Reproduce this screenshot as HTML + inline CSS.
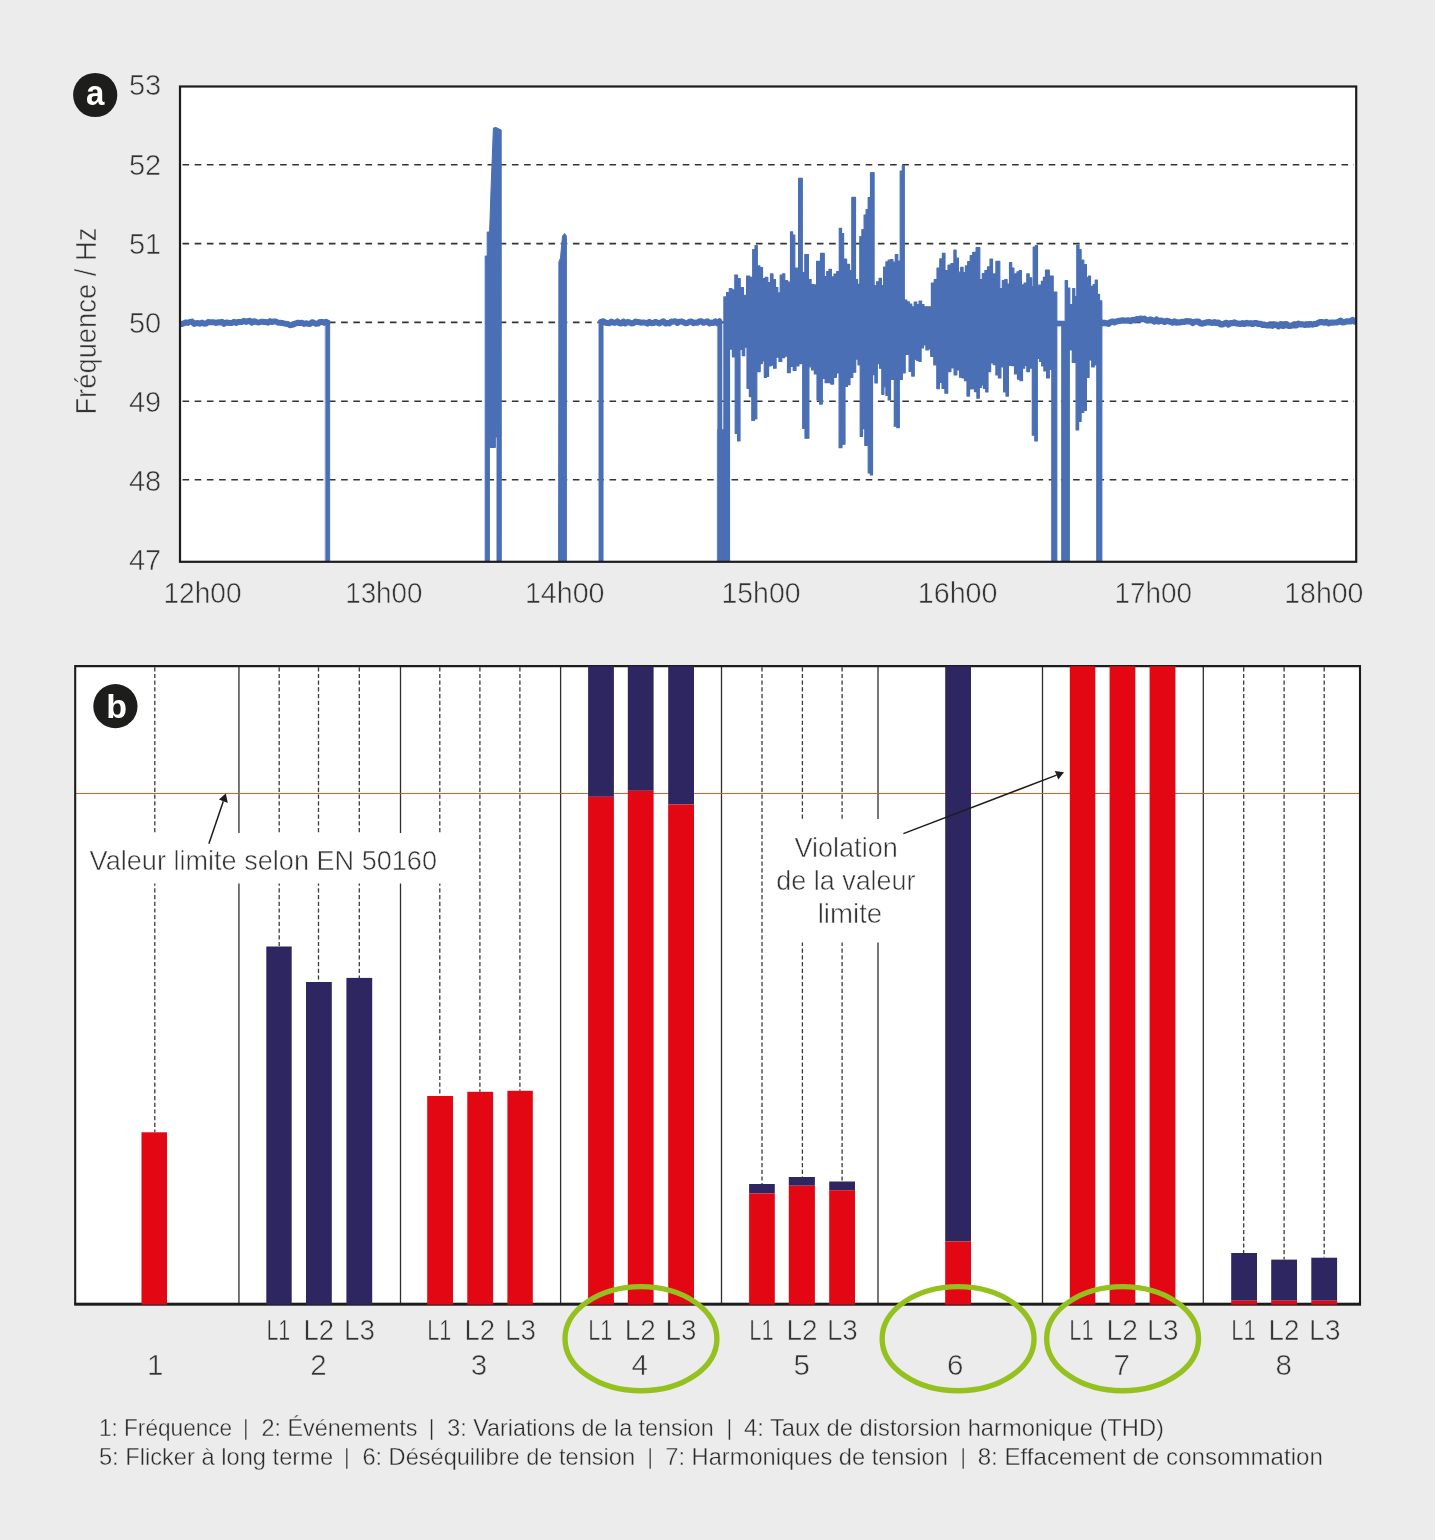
<!DOCTYPE html>
<html lang="fr"><head><meta charset="utf-8"><title>Fréquence et qualité de tension</title>
<style>html,body{margin:0;padding:0;background:#ececec}svg{display:block}</style></head>
<body>
<svg width="1435" height="1540" viewBox="0 0 1435 1540" font-family="'Liberation Sans', sans-serif" fill="#333333">
<rect width="1435" height="1540" fill="#ececec"/>
<rect x="180" y="86.5" width="1176" height="475" fill="#fff"/>
<line x1="182.5" x2="1354" y1="164.8" y2="164.8" stroke="#333" stroke-width="1.6" stroke-dasharray="6.6 5.6"/>
<line x1="182.5" x2="1354" y1="243.6" y2="243.6" stroke="#333" stroke-width="1.6" stroke-dasharray="6.6 5.6"/>
<line x1="182.5" x2="1354" y1="322.4" y2="322.4" stroke="#333" stroke-width="1.6" stroke-dasharray="6.6 5.6"/>
<line x1="182.5" x2="1354" y1="401.2" y2="401.2" stroke="#333" stroke-width="1.6" stroke-dasharray="6.6 5.6"/>
<line x1="182.5" x2="1354" y1="479.7" y2="479.7" stroke="#333" stroke-width="1.6" stroke-dasharray="6.6 5.6"/>
<clipPath id="c1"><rect x="180" y="87" width="1176" height="474"/></clipPath>
<g clip-path="url(#c1)" fill="#4a6fb5" stroke="#4a6fb5" stroke-linejoin="round" stroke-linecap="round">
<polyline fill="none" stroke-width="6" points="180.0,323.6 182.0,324.0 184.0,323.2 186.0,322.4 188.0,322.9 190.0,321.9 192.0,321.6 194.0,323.9 196.0,323.2 198.0,322.9 200.0,323.8 202.0,322.6 204.0,323.7 206.0,323.6 208.0,322.1 210.0,322.2 212.0,322.3 214.0,322.2 216.0,323.0 218.0,322.2 220.0,322.6 222.0,321.9 224.0,323.8 226.0,322.4 228.0,322.7 230.0,323.0 232.0,323.0 234.0,321.8 236.0,323.0 238.0,322.0 240.0,322.1 242.0,322.1 244.0,320.8 246.0,321.9 248.0,321.2 250.0,320.8 252.0,322.7 254.0,321.2 256.0,321.9 258.0,322.5 260.0,322.1 262.0,321.6 264.0,322.0 266.0,322.1 268.0,322.7 270.0,321.1 272.0,322.1 274.0,321.4 276.0,321.5 278.0,322.7 280.0,322.8 282.0,322.9 284.0,323.4 286.0,323.8 288.0,324.0 290.0,325.2 292.0,324.9 294.0,324.1 296.0,323.3 298.0,322.7 300.0,322.9 302.0,322.7 304.0,323.9 306.0,323.3 308.0,323.7 310.0,323.9 312.0,322.2 314.0,322.9 316.0,323.9 318.0,323.6 320.0,321.9 322.0,321.9 324.0,322.7 326.0,321.8 327.4,322.8"/>
<rect x="325.4" y="320.5" width="4.5" height="250" stroke-width="0.4"/>
<polygon stroke-width="1" points="485.2,570.0 485.2,256.0 487.2,256.0 487.2,232.0 489.6,232.0 491.0,190.0 493.4,128.0 496.0,127.5 501.2,130.0 501.3,570.0 497.0,570.0 497.0,437.0 495.4,437.0 495.4,447.5 489.4,447.5 489.4,570.0"/>
<polygon stroke-width="1" points="558.6,570.0 558.9,262.0 560.5,258.0 562.5,236.0 564.6,233.5 566.4,236.0 566.4,570.0"/>
<polyline fill="none" stroke-width="6" points="601.4,321.7 603.4,321.3 605.4,322.7 607.4,323.0 609.4,323.3 611.4,321.5 613.4,322.8 615.4,322.7 617.4,321.4 619.4,323.2 621.4,323.4 623.4,321.6 625.4,323.4 627.4,322.1 629.4,322.3 631.4,323.5 633.4,323.1 635.4,321.5 637.4,322.1 639.4,322.3 641.4,322.7 643.4,322.4 645.4,322.7 647.4,323.6 649.4,321.9 651.4,323.2 653.4,323.0 655.4,321.9 657.4,322.7 659.4,323.4 661.4,322.3 663.4,321.3 665.4,323.5 667.4,323.0 669.4,323.4 671.4,321.4 673.4,321.7 675.4,321.2 677.4,323.0 679.4,321.7 681.4,321.4 683.4,322.1 685.4,323.3 687.4,323.1 689.4,321.7 691.4,321.5 693.4,323.3 695.4,322.5 697.4,322.8 699.4,321.3 701.4,321.2 703.4,322.8 705.4,322.1 707.4,321.3 709.4,323.4 711.4,322.6 713.4,323.0 715.4,321.3 717.4,323.2 719.4,321.3 719.5,322.3"/>
<rect x="598.9" y="320" width="4.4" height="250" stroke-width="0.4"/>
<rect x="717.8" y="321" width="4.2" height="250" stroke-width="0.6"/>
<rect x="717.8" y="429.5" width="11.6" height="140" stroke-width="0.6"/>
<polygon stroke-width="1.2" points="723.9,296.9 726.6,296.9 726.6,292.6 729.3,292.6 729.3,288.6 732.0,288.6 732.0,289.9 734.8,289.9 734.8,275.0 737.5,275.0 737.5,278.7 740.2,278.7 740.2,287.5 743.4,287.5 743.4,295.4 746.6,295.4 746.6,276.1 749.7,276.1 749.7,277.3 752.7,277.3 752.7,249.6 755.0,249.6 755.0,245.5 757.3,245.5 757.3,265.9 759.9,265.9 759.9,267.5 762.5,267.5 762.5,278.6 765.2,278.6 765.2,277.3 767.8,277.3 767.8,282.6 770.5,282.6 770.5,273.9 773.0,273.9 773.0,279.6 775.5,279.6 775.5,287.5 777.8,287.5 777.8,292.9 780.2,292.9 780.2,275.2 782.5,275.2 782.5,273.9 784.8,273.9 784.8,280.7 787.6,280.7 787.6,282.0 790.5,282.0 790.5,231.8 792.6,231.8 792.6,235.0 794.8,235.0 794.8,268.2 798.6,268.2 798.6,178.4 802.3,178.4 802.3,272.7 804.8,272.7 804.8,254.5 808.4,254.5 808.4,279.5 811.1,279.5 811.1,284.6 813.9,284.6 813.9,284.9 816.6,284.9 816.6,261.4 820.5,261.4 820.5,253.4 824.3,253.4 824.3,276.5 826.7,276.5 826.7,271.6 829.0,271.6 829.0,269.3 831.4,269.3 831.4,276.9 834.0,276.9 834.0,274.0 836.7,274.0 836.7,271.6 839.3,271.6 839.3,228.4 841.5,228.4 841.5,233.6 843.6,233.6 843.6,259.1 846.6,259.1 846.6,264.4 849.5,264.4 849.5,270.5 851.8,270.5 851.8,197.3 855.5,197.3 855.5,279.5 857.6,279.5 857.6,284.3 859.8,284.3 859.8,236.5 861.9,236.5 861.9,229.5 864.1,229.5 864.1,215.0 866.1,215.0 866.1,209.5 868.2,209.5 868.2,197.7 870.5,197.7 870.5,172.7 874.1,172.7 874.1,285.5 876.6,285.5 876.6,281.8 879.1,281.8 879.1,278.4 881.4,278.4 881.4,285.5 883.6,285.5 883.6,267.2 885.9,267.2 885.9,261.8 888.2,261.8 888.2,260.2 890.5,260.2 890.5,259.5 892.9,259.5 892.9,262.2 895.3,262.2 895.3,254.5 897.8,254.5 897.8,261.1 900.2,261.1 900.2,171.1 902.3,171.1 902.3,165.5 904.3,165.5 904.3,300.0 906.8,300.0 906.8,301.8 909.3,301.8 909.3,304.1 911.7,304.1 911.7,306.8 914.2,306.8 914.2,302.1 916.7,302.1 916.7,304.7 919.1,304.7 919.1,301.2 921.6,301.2 921.6,304.5 924.0,304.5 924.0,306.8 926.5,306.8 926.5,306.8 928.9,306.8 928.9,306.8 931.4,306.8 931.4,283.1 934.2,283.1 934.2,279.5 937.0,279.5 937.0,268.2 939.8,268.2 939.8,258.9 942.4,258.9 942.4,253.4 945.0,253.4 945.0,270.7 948.0,270.7 948.0,265.1 950.9,265.1 950.9,263.6 953.9,263.6 953.9,250.0 956.1,250.0 956.1,258.2 958.4,258.2 958.4,272.2 960.7,272.2 960.7,267.3 963.1,267.3 963.1,272.5 965.4,272.5 965.4,265.9 967.7,265.9 967.7,261.6 970.2,261.6 970.2,255.7 972.7,255.7 972.7,252.3 976.1,252.3 976.1,247.7 979.8,247.7 979.8,279.5 982.3,279.5 982.3,273.6 984.9,273.6 984.9,270.5 987.5,270.5 987.5,266.9 990.0,266.9 990.0,259.1 992.5,259.1 992.5,273.9 995.9,273.9 995.9,261.4 999.8,261.4 999.8,288.6 1002.3,288.6 1002.3,280.6 1004.7,280.6 1004.7,279.5 1007.1,279.5 1007.1,284.0 1009.5,284.0 1009.5,262.5 1011.7,262.5 1011.7,268.1 1013.9,268.1 1013.9,273.9 1017.0,273.9 1017.0,271.8 1019.2,271.8 1019.2,270.5 1021.4,270.5 1021.4,284.9 1024.1,284.9 1024.1,283.0 1026.8,283.0 1026.8,273.9 1029.2,273.9 1029.2,277.8 1031.6,277.8 1031.6,286.4 1033.2,286.4 1033.2,247.0 1035.3,247.0 1035.3,245.5 1037.5,245.5 1037.5,285.2 1041.4,285.2 1041.4,281.3 1043.4,281.3 1043.4,277.3 1045.5,277.3 1045.5,270.0 1049.3,270.0 1049.3,276.1 1053.2,276.1 1053.2,292.0 1056.8,292.0 1056.8,564.0 1051.8,564.0 1051.8,369.3 1049.3,369.3 1049.3,378.0 1046.6,378.0 1046.6,370.9 1043.9,370.9 1043.9,365.9 1041.7,365.9 1041.7,361.3 1039.5,361.3 1039.5,358.5 1037.3,358.5 1037.3,440.9 1034.8,440.9 1034.8,435.2 1032.3,435.2 1032.3,368.1 1029.5,368.1 1029.5,371.6 1026.8,371.6 1026.8,365.5 1024.7,365.5 1024.7,368.2 1022.5,368.2 1022.5,380.7 1020.0,380.7 1020.0,379.2 1017.5,379.2 1017.5,373.9 1014.5,373.9 1014.5,365.6 1011.4,365.6 1011.4,365.3 1008.4,365.3 1008.4,396.1 1006.0,396.1 1006.0,391.8 1003.6,391.8 1003.6,367.0 1000.9,367.0 1000.9,378.0 998.4,378.0 998.4,375.0 995.9,375.0 995.9,364.6 993.3,364.6 993.3,363.0 990.6,363.0 990.6,371.6 988.0,371.6 988.0,392.0 985.7,392.0 985.7,388.4 983.4,388.4 983.4,385.0 981.4,385.0 981.4,387.5 979.3,387.5 979.3,398.2 976.9,398.2 976.9,391.6 974.5,391.6 974.5,388.6 972.0,388.6 972.0,389.0 969.5,389.0 969.5,396.1 967.0,396.1 967.0,380.7 964.5,380.7 964.5,378.0 962.0,378.0 962.0,377.2 959.5,377.2 959.5,370.0 956.8,370.0 956.8,375.0 954.1,375.0 954.1,367.9 950.9,367.9 950.9,371.6 947.7,371.6 947.7,393.2 944.9,393.2 944.9,388.3 942.0,388.3 942.0,382.3 939.4,382.3 939.4,388.6 936.8,388.6 936.8,364.8 933.8,364.8 933.8,356.3 930.7,356.3 930.7,348.9 928.3,348.9 928.3,350.0 925.9,350.0 925.9,344.9 923.5,344.9 923.5,348.0 921.1,348.0 921.1,361.4 918.9,361.4 918.9,360.3 916.6,360.3 916.6,359.2 914.3,359.2 914.3,376.1 911.7,376.1 911.7,371.5 909.1,371.5 909.1,354.5 905.2,354.5 905.2,372.8 902.3,372.8 902.3,379.5 899.3,379.5 899.3,427.7 896.8,427.7 896.8,426.2 894.3,426.2 894.3,379.5 890.5,379.5 890.5,400.0 888.2,400.0 888.2,395.4 885.9,395.4 885.9,386.8 883.9,386.8 883.9,394.3 881.8,394.3 881.8,368.2 879.5,368.2 879.5,363.6 877.3,363.6 877.3,383.0 874.9,383.0 874.9,374.7 872.5,374.7 872.5,475.0 870.3,475.0 870.3,472.9 868.2,472.9 868.2,445.5 864.8,445.5 864.8,428.7 862.5,428.7 862.5,436.4 860.2,436.4 860.2,364.8 858.0,364.8 858.0,359.1 855.7,359.1 855.7,372.2 852.8,372.2 852.8,377.3 850.0,377.3 850.0,384.7 847.5,384.7 847.5,386.4 845.0,386.4 845.0,444.2 842.0,444.2 842.0,447.7 839.1,447.7 839.1,373.0 836.4,373.0 836.4,377.3 833.6,377.3 833.6,384.1 830.8,384.1 830.8,382.7 828.0,382.7 828.0,382.7 825.1,382.7 825.1,378.3 822.3,378.3 822.3,404.1 819.7,404.1 819.7,400.1 817.0,400.1 817.0,373.9 814.3,373.9 814.3,369.9 811.6,369.9 811.6,366.8 808.9,366.8 808.9,438.2 805.0,438.2 805.0,428.4 802.7,428.4 802.7,363.6 798.9,363.6 798.9,366.0 796.0,366.0 796.0,370.5 793.2,370.5 793.2,366.5 790.3,366.5 790.3,372.7 787.5,372.7 787.5,356.1 784.7,356.1 784.7,357.6 781.8,357.6 781.8,361.4 779.0,361.4 779.0,357.2 776.1,357.2 776.1,368.2 773.6,368.2 773.6,365.1 771.1,365.1 771.1,365.9 768.6,365.9 768.6,376.3 766.5,376.3 766.5,377.3 764.3,377.3 764.3,360.9 762.3,360.9 762.3,363.6 760.2,363.6 760.2,371.6 756.8,371.6 756.8,418.9 754.3,418.9 754.3,420.5 751.8,420.5 751.8,396.6 749.4,396.6 749.4,388.3 747.0,388.3 747.0,347.2 744.7,347.2 744.7,355.7 742.3,355.7 742.3,349.3 740.0,349.3 740.0,440.9 737.6,440.9 737.6,433.3 735.2,433.3 735.2,356.8 732.4,356.8 732.4,349.1 729.5,349.1 729.5,564.0 723.9,564.0"/>
<polyline fill="none" stroke-width="5.6" points="1054,323.4 1064,323.6"/>
<polygon stroke-width="1.2" points="1061.8,321.6 1065.2,321.6 1065.2,280.7 1067.5,280.7 1067.5,288.0 1069.8,288.0 1069.8,304.5 1072.7,304.5 1072.7,288.6 1074.8,288.6 1074.8,296.6 1076.8,296.6 1076.8,245.0 1079.0,245.0 1079.0,249.6 1081.1,249.6 1081.1,260.2 1083.8,260.2 1083.8,264.5 1086.4,264.5 1086.4,277.7 1088.4,277.7 1088.4,276.1 1090.5,276.1 1090.5,286.4 1093.2,286.4 1093.2,284.5 1095.2,284.5 1095.2,280.0 1097.3,280.0 1097.3,294.3 1099.5,294.3 1099.5,300.8 1101.8,300.8 1101.8,564.0 1096.8,564.0 1096.8,365.0 1094.2,365.0 1094.2,367.0 1091.7,367.0 1091.7,359.9 1089.1,359.9 1089.1,377.3 1086.4,377.3 1086.4,410.4 1083.8,410.4 1083.8,412.5 1081.1,412.5 1081.1,421.4 1078.6,421.4 1078.6,430.0 1076.1,430.0 1076.1,362.5 1072.3,362.5 1072.3,350.0 1069.3,350.0 1069.3,564.0 1061.8,564.0"/>
<polyline fill="none" stroke-width="6.2" points="1100.5,321.7 1102.5,323.3 1104.5,322.9 1106.5,323.2 1108.5,323.9 1110.5,322.1 1112.5,321.5 1114.5,322.3 1116.5,321.4 1118.5,320.9 1120.5,320.8 1122.5,320.3 1124.5,320.5 1126.5,320.5 1128.5,320.3 1130.5,321.2 1132.5,319.9 1134.5,320.2 1136.5,319.2 1138.5,319.4 1140.5,318.5 1142.5,319.2 1144.5,318.7 1146.5,320.5 1148.5,320.2 1150.5,319.5 1152.5,320.3 1154.5,321.5 1156.5,319.6 1158.5,321.5 1160.5,320.7 1162.5,320.9 1164.5,321.9 1166.5,320.9 1168.5,321.3 1170.5,321.9 1172.5,322.7 1174.5,321.3 1176.5,322.6 1178.5,322.4 1180.5,322.3 1182.5,321.8 1184.5,321.8 1186.5,321.1 1188.5,321.4 1190.5,321.3 1192.5,323.0 1194.5,321.8 1196.5,321.7 1198.5,321.6 1200.5,323.4 1202.5,323.6 1204.5,323.1 1206.5,322.3 1208.5,322.2 1210.5,322.4 1212.5,322.9 1214.5,322.2 1216.5,323.0 1218.5,322.6 1220.5,324.3 1222.5,324.4 1224.5,323.4 1226.5,322.8 1228.5,324.6 1230.5,323.1 1232.5,323.2 1234.5,322.4 1236.5,323.4 1238.5,323.7 1240.5,323.9 1242.5,323.2 1244.5,324.0 1246.5,322.9 1248.5,323.5 1250.5,323.2 1252.5,324.0 1254.5,323.2 1256.5,323.2 1258.5,324.0 1260.5,323.9 1262.5,324.8 1264.5,324.7 1266.5,325.3 1268.5,325.1 1270.5,325.3 1272.5,325.8 1274.5,324.7 1276.5,324.6 1278.5,326.3 1280.5,324.3 1282.5,325.8 1284.5,325.6 1286.5,324.1 1288.5,325.9 1290.5,325.9 1292.5,325.2 1294.5,325.3 1296.5,325.4 1298.5,323.6 1300.5,324.4 1302.5,324.3 1304.5,324.9 1306.5,324.7 1308.5,324.7 1310.5,324.0 1312.5,324.6 1314.5,324.0 1316.5,323.9 1318.5,322.6 1320.5,322.0 1322.5,322.2 1324.5,322.6 1326.5,321.8 1328.5,323.4 1330.5,322.6 1332.5,322.7 1334.5,322.5 1336.5,322.5 1338.5,321.9 1340.5,320.6 1342.5,322.4 1344.5,322.2 1346.5,321.4 1348.5,321.4 1350.5,321.5 1352.5,320.0 1354.5,321.5 1356.0,320.8"/>
</g>
<rect x="180" y="86.5" width="1176.2" height="475.3" fill="none" stroke="#1d1d1b" stroke-width="2.2"/>
<circle cx="95.2" cy="95" r="22.1" fill="#1d1d1b"/>
<text transform="translate(95.2,104.6) scale(0.93,1)" font-size="35.5" font-weight="bold" fill="#fff" text-anchor="middle">a</text>
<text x="161.2" y="95.1" font-size="29" text-anchor="end" stroke="#ececec" stroke-width="0.55">53</text>
<text x="161.2" y="174.7" font-size="29" text-anchor="end" stroke="#ececec" stroke-width="0.55">52</text>
<text x="161.2" y="254.0" font-size="29" text-anchor="end" stroke="#ececec" stroke-width="0.55">51</text>
<text x="161.2" y="332.9" font-size="29" text-anchor="end" stroke="#ececec" stroke-width="0.55">50</text>
<text x="161.2" y="411.9" font-size="29" text-anchor="end" stroke="#ececec" stroke-width="0.55">49</text>
<text x="161.2" y="490.7" font-size="29" text-anchor="end" stroke="#ececec" stroke-width="0.55">48</text>
<text x="161.2" y="570.1" font-size="29" text-anchor="end" stroke="#ececec" stroke-width="0.55">47</text>
<text transform="translate(95.9,414.6) rotate(-90)" stroke="#ececec" stroke-width="0.55" font-size="29" textLength="187" lengthAdjust="spacingAndGlyphs">Fréquence / Hz</text>
<text x="163.5" y="602.9" stroke="#ececec" stroke-width="0.55" font-size="29" textLength="78.0" lengthAdjust="spacingAndGlyphs">12h00</text>
<text x="345.2" y="602.9" stroke="#ececec" stroke-width="0.55" font-size="29" textLength="77.3" lengthAdjust="spacingAndGlyphs">13h00</text>
<text x="524.9" y="602.9" stroke="#ececec" stroke-width="0.55" font-size="29" textLength="79.6" lengthAdjust="spacingAndGlyphs">14h00</text>
<text x="721.5" y="602.9" stroke="#ececec" stroke-width="0.55" font-size="29" textLength="79.0" lengthAdjust="spacingAndGlyphs">15h00</text>
<text x="917.8" y="602.9" stroke="#ececec" stroke-width="0.55" font-size="29" textLength="79.7" lengthAdjust="spacingAndGlyphs">16h00</text>
<text x="1114.5" y="602.9" stroke="#ececec" stroke-width="0.55" font-size="29" textLength="77.5" lengthAdjust="spacingAndGlyphs">17h00</text>
<text x="1284.2" y="602.9" stroke="#ececec" stroke-width="0.55" font-size="29" textLength="79.3" lengthAdjust="spacingAndGlyphs">18h00</text>
<rect x="75.2" y="666.2" width="1284.8" height="638.3999999999999" fill="#fff"/>
<line x1="238.95" x2="238.95" y1="666.2" y2="1304.6" stroke="#2e2e2e" stroke-width="1.3"/>
<line x1="400.5" x2="400.5" y1="666.2" y2="1304.6" stroke="#2e2e2e" stroke-width="1.3"/>
<line x1="560.6" x2="560.6" y1="666.2" y2="1304.6" stroke="#2e2e2e" stroke-width="1.3"/>
<line x1="721.5" x2="721.5" y1="666.2" y2="1304.6" stroke="#2e2e2e" stroke-width="1.3"/>
<line x1="878" x2="878" y1="666.2" y2="1304.6" stroke="#2e2e2e" stroke-width="1.3"/>
<line x1="1042.5" x2="1042.5" y1="666.2" y2="1304.6" stroke="#2e2e2e" stroke-width="1.3"/>
<line x1="1203.3" x2="1203.3" y1="666.2" y2="1304.6" stroke="#2e2e2e" stroke-width="1.3"/>
<line x1="154.8" x2="154.8" y1="667.2" y2="1132.3" stroke="#3a3a3a" stroke-width="1.3" stroke-dasharray="4.2 2.5"/>
<line x1="279.2" x2="279.2" y1="667.2" y2="946.5" stroke="#3a3a3a" stroke-width="1.3" stroke-dasharray="4.2 2.5"/>
<line x1="318.5" x2="318.5" y1="667.2" y2="982" stroke="#3a3a3a" stroke-width="1.3" stroke-dasharray="4.2 2.5"/>
<line x1="359.3" x2="359.3" y1="667.2" y2="977.9" stroke="#3a3a3a" stroke-width="1.3" stroke-dasharray="4.2 2.5"/>
<line x1="439.8" x2="439.8" y1="667.2" y2="1096" stroke="#3a3a3a" stroke-width="1.3" stroke-dasharray="4.2 2.5"/>
<line x1="479.9" x2="479.9" y1="667.2" y2="1091.8" stroke="#3a3a3a" stroke-width="1.3" stroke-dasharray="4.2 2.5"/>
<line x1="519.9" x2="519.9" y1="667.2" y2="1090.8" stroke="#3a3a3a" stroke-width="1.3" stroke-dasharray="4.2 2.5"/>
<line x1="762" x2="762" y1="667.2" y2="1184" stroke="#3a3a3a" stroke-width="1.3" stroke-dasharray="4.2 2.5"/>
<line x1="802.4" x2="802.4" y1="667.2" y2="1177" stroke="#3a3a3a" stroke-width="1.3" stroke-dasharray="4.2 2.5"/>
<line x1="842.1" x2="842.1" y1="667.2" y2="1181.5" stroke="#3a3a3a" stroke-width="1.3" stroke-dasharray="4.2 2.5"/>
<line x1="1243.7" x2="1243.7" y1="667.2" y2="1253" stroke="#3a3a3a" stroke-width="1.3" stroke-dasharray="4.2 2.5"/>
<line x1="1284.1" x2="1284.1" y1="667.2" y2="1259.6" stroke="#3a3a3a" stroke-width="1.3" stroke-dasharray="4.2 2.5"/>
<line x1="1324.2" x2="1324.2" y1="667.2" y2="1257.5" stroke="#3a3a3a" stroke-width="1.3" stroke-dasharray="4.2 2.5"/>
<line x1="75.2" x2="1360" y1="793.5" y2="793.5" stroke="#e8502a" stroke-width="0.95"/>
<rect x="84" y="833" width="360" height="50.5" fill="#fff"/>
<rect x="772" y="819" width="150" height="123.5" fill="#fff"/>
<path d="M75.2,1304.2 V666.15 H1360 V1304.2" fill="none" stroke="#1d1d1b" stroke-width="2.1"/>
<rect x="74.15" y="1302.7" width="1286.9" height="3" fill="#1d1d1b"/>
<rect x="141.5" y="1132.3" width="25.5" height="172.3" fill="#e30613"/>
<rect x="266.3" y="946.5" width="25.4" height="358.1" fill="#2d2660"/>
<rect x="306" y="982" width="25.8" height="322.6" fill="#2d2660"/>
<rect x="346.4" y="977.9" width="25.8" height="326.7" fill="#2d2660"/>
<rect x="427.2" y="1096" width="25.8" height="208.6" fill="#e30613"/>
<rect x="467.3" y="1091.8" width="25.8" height="212.8" fill="#e30613"/>
<rect x="507.4" y="1090.8" width="25.4" height="213.8" fill="#e30613"/>
<rect x="588.1" y="666.2" width="25.8" height="130.6" fill="#2d2660"/>
<rect x="588.1" y="796.8" width="25.8" height="507.8" fill="#e30613"/>
<rect x="627.8" y="666.2" width="25.8" height="124.6" fill="#2d2660"/>
<rect x="627.8" y="790.8" width="25.8" height="513.8" fill="#e30613"/>
<rect x="668.2" y="666.2" width="25.8" height="138.2" fill="#2d2660"/>
<rect x="668.2" y="804.4" width="25.8" height="500.2" fill="#e30613"/>
<rect x="749.1" y="1184" width="25.7" height="9.4" fill="#2d2660"/>
<rect x="749.1" y="1193.4" width="25.7" height="111.2" fill="#e30613"/>
<rect x="788.8" y="1177" width="26.1" height="8.7" fill="#2d2660"/>
<rect x="788.8" y="1185.7" width="26.1" height="118.9" fill="#e30613"/>
<rect x="829.2" y="1181.5" width="25.8" height="8.7" fill="#2d2660"/>
<rect x="829.2" y="1190.2" width="25.8" height="114.4" fill="#e30613"/>
<rect x="945.2" y="666.2" width="25.8" height="575.3" fill="#2d2660"/>
<rect x="945.2" y="1241.5" width="25.8" height="63.1" fill="#e30613"/>
<rect x="1069.8" y="666.2" width="25.5" height="638.4" fill="#e30613"/>
<rect x="1109.6" y="666.2" width="25.7" height="638.4" fill="#e30613"/>
<rect x="1149.6" y="666.2" width="25.8" height="638.4" fill="#e30613"/>
<rect x="1231.2" y="1253" width="25.8" height="47.7" fill="#2d2660"/>
<rect x="1231.2" y="1300.7" width="25.8" height="3.9" fill="#e30613"/>
<rect x="1271.2" y="1259.6" width="25.8" height="41.1" fill="#2d2660"/>
<rect x="1271.2" y="1300.7" width="25.8" height="3.9" fill="#e30613"/>
<rect x="1311.3" y="1257.7" width="25.8" height="43.0" fill="#2d2660"/>
<rect x="1311.3" y="1300.7" width="25.8" height="3.9" fill="#e30613"/>
<circle cx="115.4" cy="706.2" r="22.1" fill="#1d1d1b"/>
<text x="116.6" y="718.2" font-size="34" font-weight="bold" fill="#fff" text-anchor="middle">b</text>
<line x1="208.9" y1="843.7" x2="223.3" y2="801.2" stroke="#1d1d1b" stroke-width="1.5"/>
<polygon points="225.8,793.5 227.8,802.9 218.9,799.6" fill="#1d1d1b"/>
<line x1="903.4" y1="833.6" x2="1056.6" y2="775.1" stroke="#1d1d1b" stroke-width="1.5"/>
<polygon points="1064,772.3 1058.3,779.5 1054.8,771" fill="#1d1d1b"/>
<text x="89.6" y="869.6" stroke="#ffffff" stroke-width="0.55" font-size="28" textLength="347.4" lengthAdjust="spacingAndGlyphs">Valeur limite selon EN 50160</text>
<text x="794.4" y="857.3" stroke="#ffffff" stroke-width="0.55" font-size="28" textLength="103.4" lengthAdjust="spacingAndGlyphs">Violation</text>
<text x="776.2" y="889.9" stroke="#ffffff" stroke-width="0.55" font-size="28" textLength="139.4" lengthAdjust="spacingAndGlyphs">de la valeur</text>
<text x="817.7" y="922.8" stroke="#ffffff" stroke-width="0.55" font-size="28" textLength="64.5" lengthAdjust="spacingAndGlyphs">limite</text>
<text x="266.4" y="1340.4" stroke="#ececec" stroke-width="0.55" font-size="28.8" textLength="23.9" lengthAdjust="spacingAndGlyphs">L1</text>
<text x="303.4" y="1340.4" stroke="#ececec" stroke-width="0.55" font-size="28.8" textLength="30.5" lengthAdjust="spacingAndGlyphs">L2</text>
<text x="344.1" y="1340.4" stroke="#ececec" stroke-width="0.55" font-size="28.8" textLength="30.9" lengthAdjust="spacingAndGlyphs">L3</text>
<text x="427.3" y="1340.4" stroke="#ececec" stroke-width="0.55" font-size="28.8" textLength="24.0" lengthAdjust="spacingAndGlyphs">L1</text>
<text x="464.4" y="1340.4" stroke="#ececec" stroke-width="0.55" font-size="28.8" textLength="30.5" lengthAdjust="spacingAndGlyphs">L2</text>
<text x="505.1" y="1340.4" stroke="#ececec" stroke-width="0.55" font-size="28.8" textLength="30.9" lengthAdjust="spacingAndGlyphs">L3</text>
<text x="588.2" y="1340.4" stroke="#ececec" stroke-width="0.55" font-size="28.8" textLength="24.2" lengthAdjust="spacingAndGlyphs">L1</text>
<text x="624.8" y="1340.4" stroke="#ececec" stroke-width="0.55" font-size="28.8" textLength="30.9" lengthAdjust="spacingAndGlyphs">L2</text>
<text x="665.6" y="1340.4" stroke="#ececec" stroke-width="0.55" font-size="28.8" textLength="30.8" lengthAdjust="spacingAndGlyphs">L3</text>
<text x="749.2" y="1340.4" stroke="#ececec" stroke-width="0.55" font-size="28.8" textLength="24.5" lengthAdjust="spacingAndGlyphs">L1</text>
<text x="786.4" y="1340.4" stroke="#ececec" stroke-width="0.55" font-size="28.8" textLength="31.0" lengthAdjust="spacingAndGlyphs">L2</text>
<text x="826.9" y="1340.4" stroke="#ececec" stroke-width="0.55" font-size="28.8" textLength="30.9" lengthAdjust="spacingAndGlyphs">L3</text>
<text x="1069.3" y="1340.4" stroke="#ececec" stroke-width="0.55" font-size="28.8" textLength="24.5" lengthAdjust="spacingAndGlyphs">L1</text>
<text x="1106.6" y="1340.4" stroke="#ececec" stroke-width="0.55" font-size="28.8" textLength="31.2" lengthAdjust="spacingAndGlyphs">L2</text>
<text x="1147.0" y="1340.4" stroke="#ececec" stroke-width="0.55" font-size="28.8" textLength="31.6" lengthAdjust="spacingAndGlyphs">L3</text>
<text x="1231.3" y="1340.4" stroke="#ececec" stroke-width="0.55" font-size="28.8" textLength="24.6" lengthAdjust="spacingAndGlyphs">L1</text>
<text x="1268.6" y="1340.4" stroke="#ececec" stroke-width="0.55" font-size="28.8" textLength="30.8" lengthAdjust="spacingAndGlyphs">L2</text>
<text x="1309.0" y="1340.4" stroke="#ececec" stroke-width="0.55" font-size="28.8" textLength="31.6" lengthAdjust="spacingAndGlyphs">L3</text>
<text x="155.3" y="1375.3" stroke="#ececec" stroke-width="0.55" font-size="29.5" text-anchor="middle">1</text>
<text x="318.5" y="1375.3" stroke="#ececec" stroke-width="0.55" font-size="29.5" text-anchor="middle">2</text>
<text x="479" y="1375.3" stroke="#ececec" stroke-width="0.55" font-size="29.5" text-anchor="middle">3</text>
<text x="639.8" y="1375.3" stroke="#ececec" stroke-width="0.55" font-size="29.5" text-anchor="middle">4</text>
<text x="801.7" y="1375.3" stroke="#ececec" stroke-width="0.55" font-size="29.5" text-anchor="middle">5</text>
<text x="955.1" y="1375.3" stroke="#ececec" stroke-width="0.55" font-size="29.5" text-anchor="middle">6</text>
<text x="1121.7" y="1375.3" stroke="#ececec" stroke-width="0.55" font-size="29.5" text-anchor="middle">7</text>
<text x="1283.8" y="1375.3" stroke="#ececec" stroke-width="0.55" font-size="29.5" text-anchor="middle">8</text>
<ellipse cx="640.95" cy="1338.7" rx="75.95" ry="52.1" fill="none" stroke="#95c11f" stroke-width="5.4"/>
<ellipse cx="958.1" cy="1338.7" rx="75.95" ry="52.1" fill="none" stroke="#95c11f" stroke-width="5.4"/>
<ellipse cx="1122.6" cy="1338.7" rx="75.95" ry="52.1" fill="none" stroke="#95c11f" stroke-width="5.4"/>
<text x="98.9" y="1435.7" stroke="#ececec" stroke-width="0.4" fill="#2b2b2b" font-size="24" textLength="133.3" lengthAdjust="spacingAndGlyphs">1: Fréquence</text>
<text x="261.5" y="1435.7" stroke="#ececec" stroke-width="0.4" fill="#2b2b2b" font-size="24" textLength="156.0" lengthAdjust="spacingAndGlyphs">2: Événements</text>
<text x="447.3" y="1435.7" stroke="#ececec" stroke-width="0.4" fill="#2b2b2b" font-size="24" textLength="266.5" lengthAdjust="spacingAndGlyphs">3: Variations de la tension</text>
<text x="744.0" y="1435.7" stroke="#ececec" stroke-width="0.4" fill="#2b2b2b" font-size="24" textLength="420.0" lengthAdjust="spacingAndGlyphs">4: Taux de distorsion harmonique (THD)</text>
<text x="245.9" y="1434.7" stroke="#ececec" stroke-width="0.4" fill="#2b2b2b" font-size="22" text-anchor="middle">|</text>
<text x="431.7" y="1434.7" stroke="#ececec" stroke-width="0.4" fill="#2b2b2b" font-size="22" text-anchor="middle">|</text>
<text x="729.4" y="1434.7" stroke="#ececec" stroke-width="0.4" fill="#2b2b2b" font-size="22" text-anchor="middle">|</text>
<text x="98.9" y="1465.4" stroke="#ececec" stroke-width="0.4" fill="#2b2b2b" font-size="24" textLength="234.2" lengthAdjust="spacingAndGlyphs">5: Flicker à long terme</text>
<text x="362.4" y="1465.4" stroke="#ececec" stroke-width="0.4" fill="#2b2b2b" font-size="24" textLength="272.6" lengthAdjust="spacingAndGlyphs">6: Déséquilibre de tension</text>
<text x="665.3" y="1465.4" stroke="#ececec" stroke-width="0.4" fill="#2b2b2b" font-size="24" textLength="282.6" lengthAdjust="spacingAndGlyphs">7: Harmoniques de tension</text>
<text x="977.7" y="1465.4" stroke="#ececec" stroke-width="0.4" fill="#2b2b2b" font-size="24" textLength="345.1" lengthAdjust="spacingAndGlyphs">8: Effacement de consommation</text>
<text x="346.8" y="1464.4" stroke="#ececec" stroke-width="0.4" fill="#2b2b2b" font-size="22" text-anchor="middle">|</text>
<text x="650.1" y="1464.4" stroke="#ececec" stroke-width="0.4" fill="#2b2b2b" font-size="22" text-anchor="middle">|</text>
<text x="963" y="1464.4" stroke="#ececec" stroke-width="0.4" fill="#2b2b2b" font-size="22" text-anchor="middle">|</text>
</svg>
</body></html>
